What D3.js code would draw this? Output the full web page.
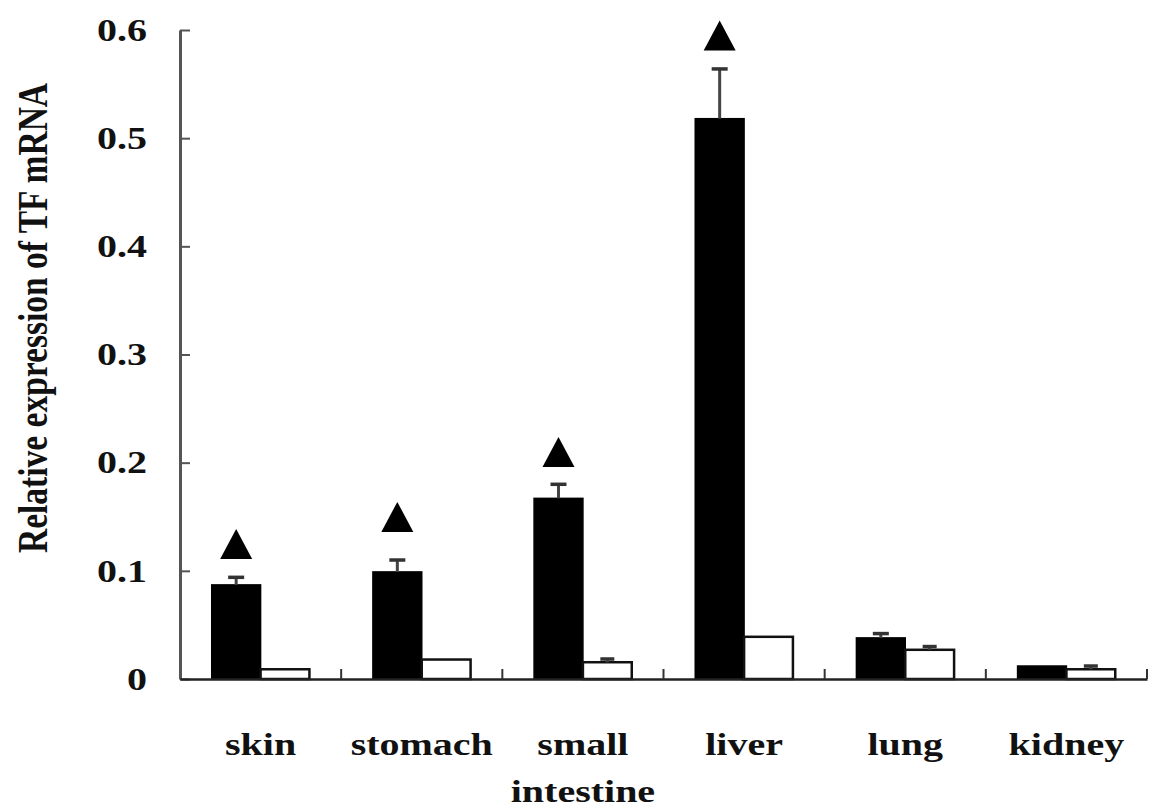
<!DOCTYPE html>
<html>
<head>
<meta charset="utf-8">
<script src="https://cdn.jsdelivr.net/npm/d3@7"></script>
<style>
  html, body { margin: 0; padding: 0; background: #fff; }
  svg { display: block; }
  text { font-family: "Liberation Serif", "Times New Roman", serif; font-weight: bold; fill: #111; }
</style>
</head>
<body>
<svg id="chart" width="1150" height="808"></svg>
<script>
// ---- data ----
const categories = ["skin", "stomach", "small intestine", "liver", "lung", "kidney"];
const categoryLines = [["skin"], ["stomach"], ["small", "intestine"], ["liver"], ["lung"], ["kidney"]];
const blackValues = [0.087, 0.099, 0.167, 0.518, 0.038, 0.012];
const blackErrors = [0.007, 0.011, 0.013, 0.046, 0.004, 0.000];
const whiteValues = [0.009, 0.018, 0.0155, 0.039, 0.027, 0.009];
const whiteErrors = [0.000, 0.000, 0.003, 0.000, 0.003, 0.003];
const markerLevels = [0.111, 0.136, 0.196, 0.581, null, null]; // triangle base level
const yTicks = [0, 0.1, 0.2, 0.3, 0.4, 0.5, 0.6];
const yTitle = "Relative expression of TF mRNA";

// ---- layout ----
const svg = d3.select("#chart");
const plotLeft = 180, plotRight = 1147, plotTop = 30, plotBottom = 679;
const stretch = 1.25;

const x = d3.scaleBand().domain(categories).range([plotLeft, plotRight]).paddingInner(0).paddingOuter(0);
const sub = d3.scaleBand().domain(["b", "w"]).range([0, x.bandwidth()]).paddingOuter(0.65).paddingInner(0);
const y = d3.scaleLinear().domain([0, 0.6]).range([plotBottom, plotTop]);

const rows = categories.map((c, i) => ({
  c, i,
  b: blackValues[i], be: blackErrors[i],
  w: whiteValues[i], we: whiteErrors[i],
  m: markerLevels[i]
}));

// bars
const g = svg.append("g");
g.selectAll("rect.black").data(rows).join("rect")
  .attr("class", "black")
  .attr("x", d => x(d.c) + sub("b"))
  .attr("width", sub.bandwidth())
  .attr("y", d => y(d.b))
  .attr("height", d => y(0) - y(d.b))
  .attr("fill", "#000").attr("stroke", "#000").attr("stroke-width", 1.5);

g.selectAll("rect.white").data(rows).join("rect")
  .attr("class", "white")
  .attr("x", d => x(d.c) + sub("w"))
  .attr("width", sub.bandwidth())
  .attr("y", d => y(d.w))
  .attr("height", d => y(0) - y(d.w))
  .attr("fill", "#fff").attr("stroke", "#111").attr("stroke-width", 2.5);

// error bars
function errBars(key, ekey, cls, capW) {
  const data = rows.filter(d => d[ekey] > 0);
  const cx = d => x(d.c) + sub(cls) + sub.bandwidth() / 2;
  g.selectAll("line.ev" + cls).data(data).join("line")
    .attr("class", "ev" + cls)
    .attr("x1", cx).attr("x2", cx)
    .attr("y1", d => y(d[key])).attr("y2", d => y(d[key] + d[ekey]))
    .attr("stroke", "#444").attr("stroke-width", 3);
  g.selectAll("line.ec" + cls).data(data).join("line")
    .attr("class", "ec" + cls)
    .attr("x1", d => cx(d) - capW / 2).attr("x2", d => cx(d) + capW / 2)
    .attr("y1", d => y(d[key] + d[ekey])).attr("y2", d => y(d[key] + d[ekey]))
    .attr("stroke", "#333").attr("stroke-width", 3.5);
}
errBars("b", "be", "b", 16);
errBars("w", "we", "w", 14);

// triangles
const triW = 32, triH = 30;
g.selectAll("path.tri").data(rows.filter(d => d.m != null)).join("path")
  .attr("class", "tri")
  .attr("d", d => {
    const cx = x(d.c) + sub("b") + sub.bandwidth() / 2;
    const by = y(d.m);
    return `M${cx - triW / 2},${by}L${cx + triW / 2},${by}L${cx},${by - triH}Z`;
  })
  .attr("fill", "#000");

// y axis
const yAxis = svg.append("g").attr("transform", `translate(${plotLeft},0)`)
  .call(d3.axisLeft(y).tickValues(yTicks).tickSizeInner(-10).tickSizeOuter(0)
    .tickPadding(33 / stretch).tickFormat(d => d === 0 ? "0" : d3.format(".1f")(d)));
yAxis.select(".domain").attr("stroke", "#555").attr("stroke-width", 3);
yAxis.selectAll(".tick line").attr("stroke", "#555").attr("stroke-width", 2);
yAxis.selectAll(".tick text")
  .attr("font-size", 32)
  .attr("font-family", '"Liberation Serif", "Times New Roman", serif')
  .attr("font-weight", "bold")
  .attr("fill", "#111")
  .attr("transform", `scale(${stretch},1)`);

// x axis
const xAxis = svg.append("g").attr("transform", `translate(0,${plotBottom})`)
  .call(d3.axisBottom(x).tickSize(0).tickFormat(""));
xAxis.select(".domain").attr("stroke", "#222").attr("stroke-width", 2.5);
const bounds = categories.slice(1).map(c => x(c)).concat([x(categories[categories.length - 1]) + x.step()]);
svg.append("g").selectAll("line").data(bounds).join("line")
  .attr("x1", d => d).attr("x2", d => d)
  .attr("y1", plotBottom).attr("y2", plotBottom - 10)
  .attr("stroke", "#333").attr("stroke-width", 2);

// category labels
const labels = svg.append("g").selectAll("text").data(rows).join("text")
  .attr("transform", d => `translate(${x(d.c) + x.bandwidth() / 2},${plotBottom + 76}) scale(${stretch},1)`)
  .attr("text-anchor", "middle")
  .attr("font-size", 32);
labels.selectAll("tspan").data(d => categoryLines[d.i]).join("tspan")
  .attr("x", 0).attr("y", (t, j) => j * 47)
  .text(t => t);

// y title
svg.append("text")
  .attr("transform", `translate(47,318) scale(${stretch},1) rotate(-90)`)
  .attr("text-anchor", "middle")
  .attr("font-size", 33.5)
  .text(yTitle);
</script>
</body>
</html>
